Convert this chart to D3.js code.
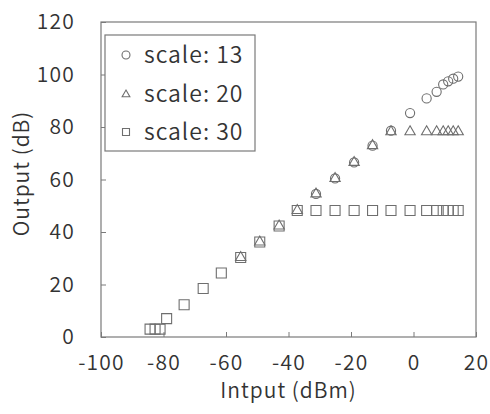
<!DOCTYPE html>
<html>
<head>
<meta charset="utf-8">
<script src="https://cdn.jsdelivr.net/npm/d3@7"></script>
<style>
  body { margin: 0; background: #fff; }
  text { font-family: "Noto Sans CJK JP", "Noto Sans", sans-serif; font-weight: 350; fill: #333; }
</style>
</head>
<body>
<svg id="chart" width="490" height="414"></svg>
<script>
// input levels (dBm), shared by all series
let inputs = [-84.3, -82.7, -81.1, -79.0, -73.4, -67.3, -61.5, -55.3, -49.2, -43.0, -37.2,
  -31.2, -25.1, -19.0, -13.1, -7.2, -1.1, 4.2, 7.4, 9.5, 11.1, 12.7, 14.3];

// output (dB) per scale, null where no point was drawn
let scale13 = [null, null, null, null, null, null, null, null, null, null, null,
  54.5, 60.4, 66.5, 72.9, 78.6, 85.3, 90.9, 93.4, 96.2, 97.4, 98.4, 99.2];
let scale20 = [null, null, null, null, null, null, null, 30.3, 36.2, 42.3, 48.2,
  54.5, 60.4, 66.5, 72.9, 78.2, 78.2, 78.2, 78.2, 78.2, 78.2, 78.2, 78.2];
let scale30 = [3.0, 3.0, 3.0, 7.0, 12.3, 18.5, 24.4, 30.3, 36.2, 42.3, 48.2,
  48.2, 48.2, 48.2, 48.2, 48.2, 48.2, 48.2, 48.2, 48.2, 48.2, 48.2, 48.2];

let seriesNames = ["scale: 13", "scale: 20", "scale: 30"];
let xTicks = [-100, -80, -60, -40, -20, 0, 20];
let yTicks = [0, 20, 40, 60, 80, 100, 120];

let margin = { top: 22, right: 14, bottom: 77, left: 101 };

let svg = d3.select("#chart"),
width = +svg.attr("width") - margin.left - margin.right,
height = +svg.attr("height") - margin.top - margin.bottom;

let g = svg.append("g").
attr("transform", "translate(" + margin.left + "," + margin.top + ")");

let x = d3.scaleLinear().domain([-100, 20]).range([0, width]);
let y = d3.scaleLinear().domain([0, 120]).range([height, 0]);

const stroke = "#6e6e6e";
const frame = "#7a7a7a";

// axes with inward ticks, plain hyphen for minus
let xAxis = g.append("g").
attr("transform", "translate(0," + height + ")").
call(d3.axisBottom(x).tickValues(xTicks).tickFormat(d => String(d)).tickSize(-5).tickPadding(14));

let yAxis = g.append("g").
call(d3.axisLeft(y).tickValues(yTicks).tickFormat(d => String(d)).tickSize(-5).tickPadding(26));

[xAxis, yAxis].forEach(ax => {
  ax.select(".domain").remove();
  ax.selectAll("line").attr("stroke", frame);
  ax.selectAll("text").
  style("font-size", "21px").
  style("letter-spacing", "1.2px").
  attr("fill", "#333");
});
xAxis.selectAll("text").attr("dy", "0.9em");

g.append("rect").
attr("width", width).
attr("height", height).
attr("fill", "none").
attr("stroke", frame).
attr("stroke-width", 1.2);

svg.append("text").
attr("x", margin.left + width / 2).
attr("y", 398).
attr("text-anchor", "middle").
style("font-size", "21px").
style("letter-spacing", "1px").
text("Intput (dBm)");

svg.append("text").
attr("transform", "translate(29," + (margin.top + height / 2 - 6) + ") rotate(-90)").
attr("text-anchor", "middle").
style("font-size", "21px").
style("letter-spacing", "1px").
text("Output (dB)");

// markers
let symbols = [d3.symbolCircle, d3.symbolTriangle, d3.symbolSquare];
let sizes = [66, 46, 100];
let legendSizes = [50, 26, 49];
let series = [scale13, scale20, scale30];

series.forEach((vals, k) => {
  let pts = inputs.map((v, i) => [v, vals[i]]).filter(p => p[1] !== null);
  g.append("g").
  selectAll("path").
  data(pts).
  enter().append("path").
  attr("d", d3.symbol().type(symbols[k]).size(sizes[k])).
  attr("transform", d => "translate(" + x(d[0]) + "," + y(d[1]) + ")").
  attr("fill", "none").
  attr("stroke", stroke).
  attr("stroke-width", 1.1);
});

// legend
let legend = svg.append("g").attr("transform", "translate(105,35)");
legend.append("rect").
attr("width", 150).
attr("height", 116).
attr("fill", "#fff").
attr("stroke", frame).
attr("stroke-width", 1.2);

let legendElem = legend.selectAll("g.item").
data(seriesNames).
enter().append("g").
attr("class", "item").
attr("transform", (d, i) => "translate(0," + (20 + i * 38.5) + ")");

legendElem.append("path").
attr("d", (d, i) => d3.symbol().type(symbols[i]).size(legendSizes[i])()).
attr("transform", (d, i) => "translate(21," + (i === 1 ? 1 : 0) + ")").
attr("fill", "none").
attr("stroke", stroke).
attr("stroke-width", 1.1);

legendElem.append("text").
attr("x", 39).
attr("dy", "0.36em").
style("font-size", "23px").
style("letter-spacing", "1px").
text(d => d);
</script>
</body>
</html>
